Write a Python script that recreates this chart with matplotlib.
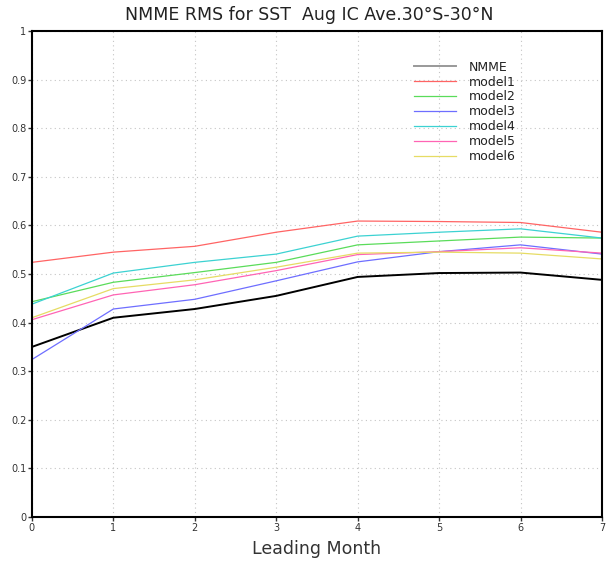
import matplotlib
matplotlib.use("Agg")
import matplotlib.pyplot as plt

# leading months
months = [0, 1, 2, 3, 4, 5, 6, 7]

# RMS values
nmme = [0.350, 0.410, 0.428, 0.455, 0.494, 0.502, 0.503, 0.488]
model1 = [0.524, 0.545, 0.557, 0.586, 0.609, 0.608, 0.606, 0.586]
model2 = [0.443, 0.483, 0.503, 0.524, 0.560, 0.568, 0.576, 0.574]
model3 = [0.324, 0.428, 0.448, 0.486, 0.525, 0.546, 0.560, 0.541]
model4 = [0.438, 0.502, 0.524, 0.541, 0.578, 0.586, 0.593, 0.574]
model5 = [0.406, 0.457, 0.478, 0.507, 0.540, 0.546, 0.554, 0.543]
model6 = [0.410, 0.470, 0.488, 0.514, 0.543, 0.545, 0.543, 0.531]

names = ["NMME", "model1", "model2", "model3", "model4", "model5", "model6"]
series = [nmme, model1, model2, model3, model4, model5, model6]
colors = ["#000000", "#ff6464", "#5adc5a", "#6e6eff", "#3cd2d2", "#ff64b4", "#e6dc64"]
widths = [1.4, 0.9, 0.9, 0.9, 0.9, 0.9, 0.9]

yticks = [0, 0.1, 0.2, 0.3, 0.4, 0.5, 0.6, 0.7, 0.8, 0.9, 1]
ytick_labels = ["0", "0.1", "0.2", "0.3", "0.4", "0.5", "0.6", "0.7", "0.8", "0.9", "1"]

fig = plt.figure(figsize=(6.13, 5.61), dpi=100)
ax = fig.add_axes([0.052, 0.0784, 0.930, 0.8663])

for name, vals, c, w in zip(names, series, colors, widths):
    ax.plot(months, vals, color=c, lw=w, label=name)

ax.set_xlim(0, 7)
ax.set_ylim(0, 1)
ax.set_xticks(months)
ax.set_yticks(yticks)
ax.set_yticklabels(ytick_labels)
ax.tick_params(labelsize=7, length=3, width=1, colors="#333333", pad=1)
ax.grid(True, color="#c4c4c4", linestyle=(0, (1, 3)), lw=0.8)
for sp in ax.spines.values():
    sp.set_linewidth(1.5)
    sp.set_color("black")

leg = ax.legend(loc="upper left", bbox_to_anchor=(0.65, 0.962), frameon=False,
                fontsize=9, handlelength=3.4, handletextpad=1.0, labelspacing=0.15)
for t in leg.get_texts():
    t.set_color("#222222")
leg.get_lines()[0].set_color("#999999")

fig.text(0.505, 0.973, "NMME RMS for SST  Aug IC Ave.30\u00b0S-30\u00b0N",
         ha="center", va="center", fontsize=12.5, color="#222222")
ax.set_xlabel("Leading Month", fontsize=12.5, color="#333333", labelpad=5)

fig.savefig("out.png", dpi=100)
